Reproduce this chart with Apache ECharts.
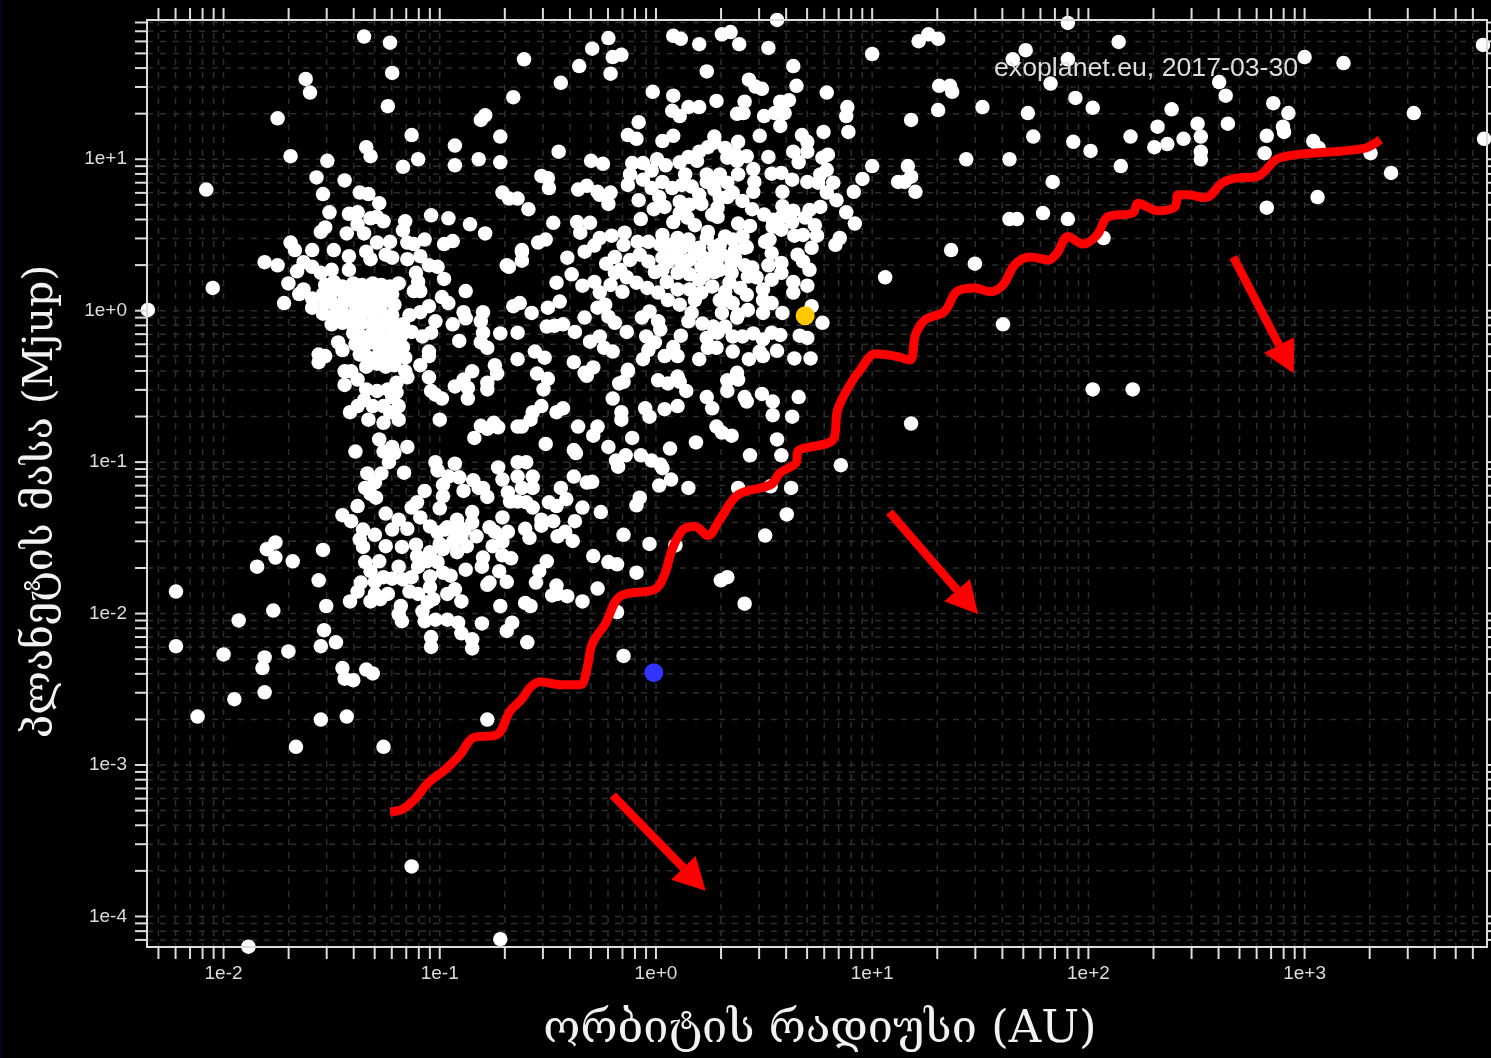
<!DOCTYPE html>
<html><head><meta charset="utf-8"><style>
html,body{margin:0;padding:0;width:100%;height:100%;overflow:hidden;background:linear-gradient(90deg,#03031c 3px,#000 3px)}
#c{position:absolute;left:0;top:0;width:1491px;height:1058px}
</style></head><body><div id="c"></div>
<script src="https://cdn.jsdelivr.net/npm/echarts@6/dist/echarts.min.js"></script>
<script>
// All planet values are [log10(orbital radius / AU), log10(mass / Mjup)].
const sparseUpperLeft=[[-1.35,1.81],[-1.23,1.77],[-1.22,1.57],[-1.62,1.53],[-1.60,1.44],[-1.24,1.35],[-0.61,1.66],[-0.66,1.41],[-1.75,1.27],[-0.79,1.29],[-0.81,1.26],[-1.13,1.16],[-0.72,1.15],[-0.93,1.09],[-1.34,1.08],[-1.32,1.02],[-1.69,1.02],[-1.52,0.99],[-1.10,1.00],[-1.17,0.95],[-0.93,0.96],[-0.82,1.00],[-0.72,0.98],[-1.57,0.88],[-1.44,0.86],[-2.08,0.80],[-1.54,0.77],[-1.37,0.78],[-1.33,0.77],[-1.28,0.71],[-0.71,0.78],[-0.68,0.74],[-0.64,0.74],[-0.59,0.67],[-2.05,0.15],[-2.35,0.005]];
const hotJupiterEdge=[[-1.51,0.65],[-1.42,0.64],[-1.38,0.65],[-1.32,0.61],[-1.29,0.62],[-1.26,0.59],[-1.16,0.59],[-1.17,0.53],[-1.04,0.63],[-0.96,0.61],[-0.86,0.57],[-0.79,0.51],[-1.53,0.55],[-1.55,0.52],[-1.38,0.57],[-1.43,0.51],[-1.35,0.51],[-1.23,0.455],[-1.07,0.47],[-1.15,0.45],[-1.12,0.44],[-0.98,0.44],[-0.94,0.46],[-0.62,0.40],[-0.62,0.33],[-0.68,0.29],[-1.69,0.45],[-1.67,0.40],[-1.81,0.32],[-1.75,0.30],[-1.70,0.18],[-0.88,0.13],[-1.59,0.40],[-1.49,0.40],[-1.42,0.36],[-1.34,0.39],[-1.29,0.45],[-1.32,0.34],[-1.25,0.37],[-1.22,0.35],[-1.15,0.34],[-1.09,0.36],[-1.05,0.30],[-1.01,0.29],[-0.98,0.21],[-1.63,0.32],[-1.66,0.26],[-1.59,0.29],[-1.55,0.25],[-1.50,0.27],[-1.42,0.27],[-1.11,0.25],[-1.10,0.19],[-1.63,0.14],[-1.65,0.11],[-1.59,0.08],[-1.59,0.02],[-1.72,0.05],[-1.19,0.18],[-1.12,0.13],[-1.09,0.13],[-0.99,0.09],[-0.96,0.05],[-0.66,0.03],[-1.05,0.03],[-1.09,-0.01],[-1.14,-0.03],[-1.02,-0.07],[-1.04,-0.145],[-1.08,-0.17],[-1.13,-0.14],[-1.17,-0.09],[-0.94,-0.09],[-0.88,-0.05],[-0.89,-0.01],[-0.80,-0.01],[-0.81,-0.07],[-0.80,-0.145],[-0.81,-0.21],[-0.78,-0.245],[-0.72,-0.15],[-0.91,-0.20],[-0.64,-0.145],[-1.47,-0.21],[-1.45,-0.26],[-1.56,-0.29],[-1.53,-0.30],[-1.56,-0.34],[-1.05,-0.27],[-1.05,-0.30],[-1.09,-0.36],[-0.64,-0.32],[-1.44,-0.40],[-1.41,-0.40],[-1.44,-0.49],[-1.38,-0.455],[-1.16,-0.40],[-1.15,-0.44],[-1.20,-0.475],[-1.05,-0.44],[-0.745,-0.36],[-0.735,-0.415],[-0.78,-0.475],[-0.78,-0.52],[-0.85,-0.40],[-0.89,-0.455],[-0.87,-0.51],[-0.93,-0.50],[-1.04,-0.53],[-1.02,-0.555],[-0.99,-0.58],[-0.87,-0.58],[-1.34,-0.52],[-1.29,-0.53],[-1.20,-0.54],[-1.24,-0.52],[-1.35,-0.59],[-1.31,-0.63],[-1.26,-0.63],[-1.22,-0.57],[-1.38,-0.63],[-1.415,-0.67],[-1.19,-0.63],[-1.23,-0.67],[-1.33,-0.72],[-1.26,-0.74],[-1.19,-0.72],[-1.28,-0.85],[-1.22,-0.90],[-1.15,-0.90]];
const hotJupiterCore=[[-1.53,.17],[-1.49,.19],[-1.45,.16],[-1.40,.18],[-1.36,.17],[-1.31,.18],[-1.27,.17],[-1.23,.16],[-1.54,.11],[-1.50,.12],[-1.44,.10],[-1.40,.12],[-1.35,.10],[-1.31,.12],[-1.26,.10],[-1.22,.11],[-1.53,.05],[-1.48,.04],[-1.44,.06],[-1.39,.04],[-1.35,.05],[-1.30,.04],[-1.26,.06],[-1.21,.04],[-1.54,-.02],[-1.49,-.03],[-1.45,-.01],[-1.40,-.03],[-1.36,-.01],[-1.31,-.02],[-1.27,-.01],[-1.22,-.03],[-1.50,-.09],[-1.45,-.08],[-1.40,-.10],[-1.36,-.08],[-1.31,-.09],[-1.26,-.08],[-1.21,-.09],[-1.40,-.15],[-1.36,-.17],[-1.31,-.14],[-1.27,-.16],[-1.22,-.15],[-1.18,-.17],[-1.39,-.22],[-1.35,-.24],[-1.31,-.21],[-1.26,-.23],[-1.22,-.22],[-1.17,-.24],[-1.37,-.29],[-1.33,-.31],[-1.28,-.28],[-1.24,-.30],[-1.20,-.29],[-1.16,-.31],[-1.34,-.37],[-1.29,-.35],[-1.25,-.37],[-1.21,-.36]];
const middleBand=[[-0.38,-0.34],[-0.29,-0.375],[-0.33,-0.41],[-0.32,-0.43],[-0.24,-0.245],[-0.20,-0.27],[-0.55,-0.415],[-0.50,-0.45],[-0.52,-0.52],[-0.13,-0.40],[-0.15,-0.47],[-0.17,-0.48],[0.01,-0.46],[0.055,-0.48],[0.10,-0.435],[0.11,-0.47],[0.14,-0.53],[0.375,-0.41],[0.33,-0.46],[0.38,-0.455],[0.33,-0.53],[0.235,-0.57],[0.26,-0.645],[0.41,-0.57],[0.42,-0.60],[0.49,-0.55],[0.54,-0.60],[0.54,-0.69],[0.66,-0.57],[0.63,-0.70],[-0.20,-0.58],[-0.53,-0.63],[-0.57,-0.67],[-0.58,-0.72],[-0.62,-0.765],[-0.64,-0.765],[-0.46,-0.67],[-0.43,-0.645],[-1.00,-0.72],[-0.81,-0.76],[-0.78,-0.78],[-0.75,-0.74],[-0.73,-0.77],[-0.84,-0.84],[-0.51,-0.88],[-0.36,-0.765],[-0.27,-0.765],[-0.29,-0.825],[-0.16,-0.67],[-0.16,-0.72],[-0.05,-0.645],[-0.03,-0.70],[0.04,-0.65],[0.10,-0.63],[0.28,-0.765],[0.305,-0.805],[0.35,-0.825],[-0.11,-0.84],[-0.22,-0.90],[-0.38,-0.92],[-0.37,-0.94],[0.065,-0.91],[0.185,-0.87],[0.56,-0.85],[0.435,-0.955],[0.58,-0.955],[-0.07,-0.955],[-0.14,-0.955],[-0.185,-0.99],[-0.175,-1.03],[-0.02,-0.99],[0.02,-1.015],[0.03,-1.04],[-0.38,-1.095],[-0.32,-1.135],[-0.295,-1.13],[0.07,-1.115],[0.015,-1.155],[0.15,-1.17],[0.38,-1.17],[0.53,-1.16],[0.625,-1.17],[-0.44,-1.17],[-0.415,-1.245],[-0.495,-1.265],[-0.46,-1.29],[-0.34,-1.30],[-0.255,-1.33],[-0.075,-1.235],[-0.09,-1.285],[0.605,-1.345]];
const lowMassCluster=[[-0.73,-1.035],[-0.71,-1.115],[-0.64,-1.00],[-0.60,-1.00],[-0.57,-1.095],[-0.64,-1.095],[-0.57,-1.17],[-0.62,-1.17],[-0.685,-1.20],[-0.675,-1.26],[-0.64,-1.26],[-0.60,-1.265],[-0.57,-1.30],[-1.02,-1.00],[-1.01,-1.055],[-0.93,-1.01],[-0.96,-1.095],[-0.91,-1.10],[-0.985,-1.15],[-0.985,-1.225],[-0.845,-1.12],[-0.80,-1.17],[-0.78,-1.23],[-0.89,-1.19],[-0.82,-1.17],[-1.39,-0.93],[-1.26,-0.93],[-1.21,-0.94],[-1.235,-1.00],[-1.335,-1.075],[-1.27,-1.075],[-1.165,-1.07],[-1.30,-1.135],[-1.345,-1.17],[-1.32,-1.21],[-1.295,-1.235],[-1.07,-1.19],[-0.375,-1.39],[-0.53,-1.38],[-0.475,-1.39],[-0.53,-1.42],[-1.38,-1.29],[-1.45,-1.35],[-1.41,-1.39],[-1.25,-1.34],[-1.105,-1.265],[-1.13,-1.30],[-1.09,-1.365],[-1.00,-1.305],[-1.19,-1.38],[-1.15,-1.44],[-1.22,-1.445],[-1.25,-1.555],[-1.355,-1.445],[-1.37,-1.51],[-1.355,-1.56],[-1.30,-1.48],[-1.045,-1.425],[-1.01,-1.465],[-0.965,-1.43],[-0.92,-1.38],[-0.85,-1.33],[-0.85,-1.40],[-0.90,-1.49],[-0.94,-1.53],[-0.985,-1.575],[-0.92,-1.595],[-0.875,-1.555],[-0.83,-1.49],[-0.77,-1.43],[-0.71,-1.365],[-0.685,-1.46],[-0.745,-1.46],[-0.71,-1.525],[-0.755,-1.555],[-0.605,-1.44],[-0.585,-1.50],[-0.455,-1.49],[-0.42,-1.46],[-0.385,-1.52],[-0.71,-1.615],[-0.67,-1.635],[-0.80,-1.63],[-0.805,-1.69],[-0.88,-1.71],[-0.505,-1.655],[-0.54,-1.72],[-0.555,-1.795],[-0.29,-1.62],[-0.725,-1.72],[-0.78,-1.81],[-0.69,-1.79],[-0.77,-1.795],[-0.46,-1.815],[-0.48,-1.88],[-0.41,-1.885],[-0.455,-1.87],[-0.34,-1.92],[-0.27,-1.835],[-0.72,-1.95],[-0.605,-1.93],[-0.58,-1.95],[-0.90,-1.92],[-1.18,-1.95],[-1.19,-2.005],[-1.175,-2.05],[-1.175,-1.56],[-1.11,-1.545],[-1.105,-1.62],[-1.345,-1.66],[-1.28,-1.655],[-1.32,-1.72],[-1.30,-1.79],[-1.26,-1.76],[-1.22,-1.77],[-1.19,-1.69],[-1.17,-1.775],[-1.045,-1.595],[-1.06,-1.655],[-1.10,-1.69],[-1.13,-1.76],[-1.01,-1.66],[-0.985,-1.73],[-0.95,-1.75],[-1.045,-1.755],[-1.365,-1.795],[-1.38,-1.855],[-1.415,-1.92],[-1.24,-1.87],[-1.275,-1.905],[-1.30,-1.87],[-1.32,-1.92],[-1.14,-1.855],[-1.10,-1.87],[-1.045,-1.825],[-1.03,-1.905],[-0.965,-1.87],[-0.93,-1.84],[-1.055,-1.925],[-1.08,-1.985],[-1.07,-2.05],[-1.02,-2.04],[-0.965,-2.04],[-0.915,-2.06],[-0.90,-2.13],[-0.85,-2.17],[-0.85,-2.23],[-1.04,-2.155],[-1.04,-2.22],[-0.805,-2.065],[-0.665,-2.06],[-0.69,-2.115],[-0.595,-2.19],[-0.975,-1.445],[-0.93,-1.51],[-0.885,-1.445],[-1.0,-1.54],[-0.92,-1.44]];
const sparseLowerLeft=[[-1.76,-1.53],[-1.80,-1.575],[-1.76,-1.63],[-1.54,-1.58],[-1.68,-1.655],[-1.845,-1.69],[-1.56,-1.78],[-2.22,-1.855],[-1.525,-1.95],[-1.77,-1.98],[-1.93,-2.045],[-1.535,-2.11],[-2.22,-2.215],[-1.48,-2.19],[-1.55,-2.215],[-2.00,-2.27],[-1.70,-2.25],[-1.81,-2.29],[-1.82,-2.36],[-1.45,-2.36],[-1.44,-2.43],[-1.40,-2.44],[-1.34,-2.37],[-1.31,-2.395],[-1.81,-2.52],[-1.95,-2.565],[-2.12,-2.68],[-1.43,-2.68],[-1.55,-2.70],[-1.665,-2.88],[-1.26,-2.88],[-1.13,-3.67],[-0.72,-4.15],[-1.885,-4.20],[-0.78,-2.70],[-0.15,-2.28],[-0.18,-1.99]];
const giantsTop=[[-0.22,1.80],[-0.295,1.73],[-0.355,1.615],[-0.16,1.69],[-0.20,1.675],[-0.21,1.565],[-0.44,1.505],[0.08,1.815],[0.115,1.795],[0.305,1.825],[0.345,1.84],[0.20,1.76],[0.385,1.76],[0.52,1.735],[0.56,1.92],[0.235,1.58],[0.635,1.615],[-0.015,1.445],[0.08,1.42],[0.28,1.385],[0.43,1.525],[0.46,1.48],[0.49,1.465],[0.65,1.485],[0.79,1.44],[0.075,1.32],[0.11,1.285],[0.15,1.345],[0.20,1.345],[0.41,1.38],[0.375,1.30],[0.405,1.305],[0.50,1.285],[0.55,1.305],[0.595,1.305],[0.575,1.38],[0.615,1.39],[0.575,1.22],[0.885,1.345],[0.88,1.285],[0.89,1.18],[0.775,1.18],[-0.08,1.245],[-0.13,1.16],[-0.09,1.135],[-0.45,1.05],[-0.30,0.99],[-0.245,0.97],[0.03,1.12],[0.08,1.155],[0.27,1.15],[0.38,1.115],[0.48,1.155],[0.675,1.16],[0.70,1.115],[0.70,1.05],[0.635,1.05],[0.66,0.98]];
const giantsCluster=[[-0.11,0.975],[-0.06,0.975],[-0.02,0.925],[0.005,1.00],[0.045,0.96],[0.11,0.98],[0.15,1.015],[0.19,0.99],[0.20,1.05],[0.24,1.08],[0.27,1.11],[0.32,1.075],[0.33,1.01],[0.365,1.04],[0.375,0.99],[0.42,1.02],[0.52,1.015],[0.77,1.01],[0.795,1.03],[0.79,0.93],[0.76,0.90],[0.45,0.935],[0.455,0.85],[0.45,0.785],[0.38,0.90],[0.535,0.905],[0.58,0.91],[0.63,0.865],[0.70,0.85],[0.75,0.845],[0.82,0.845],[-0.13,0.83],[-0.12,0.90],[-0.06,0.865],[-0.02,0.81],[0.015,0.75],[0.03,0.85],[0.075,0.81],[0.12,0.83],[0.165,0.82],[0.135,0.90],[0.235,0.90],[0.28,0.865],[0.33,0.845],[0.235,0.85],[0.355,0.78],[0.40,0.725],[0.585,0.785],[0.915,0.785],[0.79,0.78],[0.835,0.73],[-0.21,0.78],[-0.22,0.705],[-0.08,0.73],[-0.26,0.765],[0.21,0.705],[0.11,0.72],[0.04,0.685],[-0.01,0.67],[0.295,0.745],[0.33,0.75],[0.285,0.68],[0.26,0.635],[0.285,0.62],[0.445,0.67],[0.585,0.69],[0.635,0.66],[0.76,0.685],[0.71,0.665],[0.69,0.615],[0.88,0.65],[0.50,0.635],[0.54,0.60],[0.63,0.585],[0.58,0.62],[0.92,0.575],[-0.07,0.605],[0.11,0.645],[0.08,0.585],[0.145,0.615],[0.18,0.565],[0.38,0.575],[0.435,0.56],[0.58,0.535],[0.54,0.555],[0.525,0.47],[0.505,0.455],[0.735,0.565],[0.745,0.495],[0.64,0.495],[0.68,0.50],[0.85,0.48],[0.83,0.435],[0.03,0.50],[0.10,0.48],[0.15,0.47],[0.12,0.415],[0.055,0.435],[0.235,0.48],[0.27,0.42],[0.20,0.415],[0.24,0.52],[0.32,0.49],[0.355,0.47],[0.40,0.49],[0.42,0.42],[0.365,0.40],[0.305,0.37],[0.26,0.35],[-0.26,0.48],[-0.205,0.495],[-0.145,0.515],[-0.085,0.455],[-0.035,0.455],[-0.15,0.435],[-0.19,0.355],[0.72,0.415],[0.655,0.37],[0.535,0.38],[0.52,0.30],[0.58,0.315],[0.68,0.325],[0.71,0.27],[-0.075,0.37],[-0.12,0.335],[-0.165,0.27],[-0.035,0.325],[0.03,0.35],[0.10,0.35],[0.155,0.335],[-0.23,0.31],[0.215,0.355],[0.28,0.325],[0.35,0.315],[0.21,0.29],[0.27,0.255],[0.35,0.25],[0.445,0.285],[-0.19,0.25],[-0.135,0.22],[-0.09,0.185],[-0.04,0.15],[0.03,0.27],[0.10,0.25],[0.155,0.24],[0.05,0.19],[0.01,0.12],[0.10,0.14],[0.055,0.07],[0.11,0.04],[0.20,0.205],[0.26,0.16],[0.21,0.12],[0.18,0.07],[0.34,0.185],[0.39,0.15],[0.33,0.07],[0.355,0.05],[0.295,0.07],[0.425,0.225],[0.465,0.22],[0.42,0.105],[-0.21,0.17],[-0.155,0.125],[-0.26,0.12],[0.535,0.205],[0.58,0.25],[0.635,0.19],[0.70,0.165],[0.635,0.12],[0.495,0.14],[0.535,0.05],[0.495,0.07],[0.495,-0.015],[0.425,0.005],[0.38,-0.025],[0.585,-0.015],[0.72,0.03],[0.77,-0.08],[-0.235,0.04],[-0.22,-0.04],[-0.19,-0.08],[0.165,-0.015],[0.15,-0.07],[0.215,-0.085],[-0.03,-0.005],[-0.065,-0.045],[0.01,-0.07],[0.02,-0.125],[0.305,-0.015],[0.265,-0.105],[0.32,-0.105],[0.375,-0.045],[0.285,-0.145],[0.355,-0.17],[0.40,-0.17],[0.115,-0.165],[-0.135,-0.14],[0.45,-0.15],[0.535,-0.145],[0.495,-0.19],[0.575,-0.16],[0.665,-0.165],[0.70,-0.18],[-0.26,-0.17],[-0.045,-0.17],[-0.005,-0.21],[-0.035,-0.26],[-0.06,-0.32],[0.04,-0.30],[0.08,-0.24],[0.10,-0.30],[0.235,-0.18],[0.24,-0.245],[0.28,-0.245],[0.355,-0.27],[0.56,-0.265],[0.48,-0.27],[0.495,-0.30],[0.64,-0.315],[0.715,-0.315],[0.20,-0.32],[0.43,-0.32],[-0.13,-0.39],[0.075,0.37],[0.12,0.30],[0.18,0.40],[0.24,0.32],[0.295,0.435],[0.295,0.27],[0.365,0.35],[0.41,0.30],[-0.005,0.255],[0.055,0.32],[0.155,0.14],[0.225,0.24],[0.32,0.125],[0.41,0.415],[0.02,0.435],[0.09,0.415],[0.27,0.80],[0.295,0.90],[0.20,0.765],[0.155,0.70]];
const betweenClusters=[[-0.53,0.89],[-0.50,0.875],[-0.495,0.81],[-0.32,0.825],[-0.36,0.80],[-0.27,0.785],[-0.475,0.58],[-0.365,0.585],[-0.35,0.515],[-0.305,0.58],[-0.51,0.47],[-0.545,0.45],[-0.62,0.39],[-0.69,0.30],[-0.41,0.35],[-0.33,0.39],[-0.285,0.43],[-0.39,0.24],[-0.46,0.185],[-0.34,0.165],[-0.285,0.19],[-0.445,0.06],[-0.50,0.02],[-0.575,-0.015],[-0.63,0.05],[-0.47,-0.10],[-0.505,-0.105],[-0.43,-0.09],[-0.33,-0.045],[-0.375,-0.14],[-0.27,0.02],[-0.305,-0.205],[-0.56,-0.27],[-0.515,-0.31]];
const wideOrbits=[[1.00,1.695],[1.215,1.78],[1.26,1.825],[1.305,1.795],[1.905,1.90],[2.14,1.775],[1.71,1.72],[1.65,1.66],[1.905,1.66],[1.825,1.50],[1.31,1.485],[1.36,1.485],[1.37,1.445],[1.94,1.405],[2.02,1.34],[1.51,1.345],[1.72,1.305],[1.305,1.325],[1.18,1.26],[1.745,1.15],[1.93,1.115],[2.01,1.055],[1.435,1.00],[1.635,1.00],[2.195,1.15],[2.15,0.955],[2.32,1.215],[2.305,1.08],[2.365,1.10],[2.44,1.135],[2.505,1.235],[2.52,1.15],[2.52,1.05],[2.52,1.00],[2.385,1.33],[2.605,1.51],[2.635,1.42],[2.645,1.235],[1.00,0.955],[1.165,0.955],[1.18,0.885],[1.20,0.785],[1.12,0.85],[1.15,0.85],[0.955,0.87],[1.835,0.85],[1.79,0.645],[1.635,0.605],[1.67,0.605],[1.905,0.605],[2.07,0.48],[1.365,0.40],[1.475,0.31],[1.06,0.22],[3.00,1.675],[3.18,1.635],[2.855,1.37],[2.925,1.305],[3.505,1.305],[2.90,1.215],[2.905,1.18],[2.825,1.155],[3.04,1.12],[3.065,1.075],[2.815,1.04],[3.305,1.04],[3.825,1.755],[3.83,1.135],[3.40,0.91],[3.06,0.75],[2.825,0.68],[1.605,-0.09],[2.02,-0.52],[2.205,-0.52],[1.18,-0.745],[0.855,-1.02],[0.505,-1.485],[0.30,-1.78],[0.33,-1.76],[0.41,-1.935],[0.09,-1.55],[-0.03,-1.54],[-0.15,-1.48],[-0.22,-1.66],[-0.18,-1.675],[-0.09,-1.73]];
const jupiterPoint=[0.69,-0.033];
const earthPoint=[-0.01,-2.39];
const detectionLimit=[[-1.23,-3.31],[-1.17,-3.29],[-1.115,-3.225],[-1.055,-3.12],[-0.975,-3.03],[-0.905,-2.93],[-0.845,-2.82],[-0.735,-2.80],[-0.675,-2.645],[-0.62,-2.565],[-0.58,-2.485],[-0.535,-2.45],[-0.445,-2.47],[-0.35,-2.47],[-0.32,-2.37],[-0.295,-2.20],[-0.235,-2.07],[-0.165,-1.885],[-0.005,-1.84],[0.04,-1.74],[0.075,-1.575],[0.125,-1.445],[0.18,-1.425],[0.24,-1.485],[0.295,-1.38],[0.38,-1.215],[0.53,-1.15],[0.575,-1.07],[0.65,-1.00],[0.655,-0.93],[0.82,-0.85],[0.84,-0.655],[0.897,-0.49],[0.945,-0.39],[1.015,-0.285],[1.105,-0.30],[1.175,-0.325],[1.20,-0.16],[1.245,-0.06],[1.335,-0.005],[1.39,0.125],[1.475,0.15],[1.545,0.125],[1.605,0.17],[1.66,0.305],[1.73,0.355],[1.815,0.335],[1.855,0.38],[1.905,0.49],[1.975,0.44],[2.04,0.50],[2.09,0.62],[2.205,0.645],[2.23,0.71],[2.32,0.66],[2.40,0.685],[2.415,0.765],[2.46,0.765],[2.54,0.745],[2.62,0.845],[2.685,0.875],[2.78,0.885],[2.885,1.01],[3.27,1.07],[3.35,1.13]];
const arrowSegments=[[-0.20,-3.20,0.23,-3.83],[1.08,-1.33,1.49,-2.005],[2.67,0.355,2.95,-0.415]];
const tickDecadesX=[-3,-2,-1,0,1,2,3], tickDecadesY=[-5,-4,-3,-2,-1,0,1], tickMultipliers=[1,2,3,4,5,6,7,8,9];
const xTickLabels=['1e-2','1e-1','1e+0','1e+1','1e+2','1e+3'];
const yTickLabels=['1e-4','1e-3','1e-2','1e-1','1e+0','1e+1'];
const xAxisTitle='ორბიტის რადიუსი (AU)', yAxisTitle='პლანეტის მასა (Mjup)', sourceNote='exoplanet.eu, 2017-03-30';
const xExtentExp=[-2.354,3.8436], yExtentExp=[-4.2017,1.9195];

const toValue=p=>[Math.pow(10,p[0]),Math.pow(10,p[1])];
const planets=[].concat(sparseUpperLeft,hotJupiterEdge,hotJupiterCore,middleBand,lowMassCluster,sparseLowerLeft,giantsTop,giantsCluster,betweenClusters,wideOrbits).map(toValue);
const decadeValues=(ds)=>{const r=[];ds.forEach(d=>tickMultipliers.forEach(m=>r.push(m*Math.pow(10,d))));return r;};
const xMin=Math.pow(10,xExtentExp[0]),xMax=Math.pow(10,xExtentExp[1]),yMin=Math.pow(10,yExtentExp[0]),yMax=Math.pow(10,yExtentExp[1]);
const xLines=decadeValues(tickDecadesX).filter(v=>v>xMin&&v<xMax).map(v=>[v,1]);
const yLines=decadeValues(tickDecadesY).filter(v=>v>yMin&&v<yMax).map(v=>[1,v]);
const dim='#2e2e2e', axisCol='#dddddd', TL=12;

function lineShape(x1,y1,x2,y2,style){return {type:'line',shape:{x1,y1,x2,y2},style};}
const gridItem=vertical=>(params,api)=>{
  const r=params.coordSys, c=api.coord([api.value(0),api.value(1)]);
  const st={stroke:dim,lineWidth:1.5,lineDash:[6,7]};
  return vertical?lineShape(c[0],r.y,c[0],r.y+r.height,st):lineShape(r.x,c[1],r.x+r.width,c[1],st);
};
const tickItem=vertical=>(params,api)=>{
  const r=params.coordSys, c=api.coord([api.value(0),api.value(1)]);
  const st={stroke:axisCol,lineWidth:2};
  return {type:'group',children:vertical
    ?[lineShape(c[0],r.y-TL,c[0],r.y,st),lineShape(c[0],r.y+r.height,c[0],r.y+r.height+TL,st)]
    :[lineShape(r.x-TL,c[1],r.x,c[1],st),lineShape(r.x+r.width,c[1],r.x+r.width+TL,c[1],st)]};
};
function arrowItem(params,api){
  const a=api.coord([Math.pow(10,api.value(0)),Math.pow(10,api.value(1))]);
  const b=api.coord([Math.pow(10,api.value(2)),Math.pow(10,api.value(3))]);
  const dx=b[0]-a[0],dy=b[1]-a[1],L=Math.hypot(dx,dy),ux=dx/L,uy=dy/L,hl=32,hw=17;
  const bx=b[0]-ux*hl,by=b[1]-uy*hl;
  return {type:'group',children:[
    lineShape(a[0],a[1],bx,by,{stroke:'#ff0000',lineWidth:8.5}),
    {type:'polygon',shape:{points:[[b[0],b[1]],[bx-uy*hw,by+ux*hw],[bx+uy*hw,by-ux*hw]]},style:{fill:'#ff0000'}}
  ]};
}
const labelFrom=(labels,base)=>v=>{const e=Math.log10(v),n=Math.round(e);return Math.abs(e-n)<1e-6&&labels[n-base]?labels[n-base]:'';};

const chart=echarts.init(document.getElementById('c'),null,{renderer:'canvas',width:1491,height:1058});
chart.setOption({
  animation:false,backgroundColor:'transparent',
  grid:{left:147,top:20,width:1340,height:928,show:true,borderColor:axisCol,borderWidth:2,backgroundColor:'transparent',z:8},
  xAxis:{type:'log',logBase:10,min:xMin,max:xMax,axisLine:{show:false},axisTick:{show:false},splitLine:{show:false},minorTick:{show:false},
    axisLabel:{color:'#dcdcdc',fontFamily:'Liberation Sans',fontSize:19,margin:17,showMinLabel:false,showMaxLabel:false,hideOverlap:false,formatter:labelFrom(xTickLabels,-2)},
    name:xAxisTitle,nameLocation:'middle',nameGap:61,nameTextStyle:{color:'#f2f2f2',fontFamily:'DejaVu Serif',fontSize:45,padding:[0,0,0,6]}},
  yAxis:{type:'log',logBase:10,min:yMin,max:yMax,axisLine:{show:false},axisTick:{show:false},splitLine:{show:false},minorTick:{show:false},
    axisLabel:{color:'#dcdcdc',fontFamily:'Liberation Sans',fontSize:19,margin:20,showMinLabel:false,showMaxLabel:false,hideOverlap:false,formatter:labelFrom(yTickLabels,-4)},
    name:yAxisTitle,nameLocation:'middle',nameGap:85,nameTextStyle:{color:'#f2f2f2',fontFamily:'DejaVu Serif',fontSize:41,padding:[0,36,0,0]}},
  graphic:[{type:'text',left:994,top:55,z:20,silent:true,style:{text:sourceNote,fill:'#dedede',font:'26.7px "Liberation Sans"'}}],
  series:[
    {type:'custom',name:'gridX',coordinateSystem:'cartesian2d',data:xLines,renderItem:gridItem(true),z:1,silent:true,clip:false},
    {type:'custom',name:'gridY',coordinateSystem:'cartesian2d',data:yLines,renderItem:gridItem(false),z:1,silent:true,clip:false},
    {type:'scatter',name:'planets',data:planets,symbolSize:14.5,itemStyle:{color:'#ffffff',opacity:1},z:3,clip:true,large:false},
    {type:'scatter',name:'Jupiter',data:[toValue(jupiterPoint)],symbolSize:19,itemStyle:{color:'#ffc800',opacity:1},z:4,clip:true},
    {type:'scatter',name:'Earth',data:[toValue(earthPoint)],symbolSize:19,itemStyle:{color:'#3333ff',opacity:1},z:4,clip:true},
    {type:'line',name:'limit',data:detectionLimit.map(toValue),smooth:0.35,showSymbol:false,symbol:'none',lineStyle:{color:'#ff0000',width:9,join:'round'},z:5,clip:true},
    {type:'custom',name:'arrows',coordinateSystem:'cartesian2d',data:arrowSegments,encode:{x:[],y:[]},renderItem:arrowItem,z:6,silent:true},
    {type:'custom',name:'ticksX',coordinateSystem:'cartesian2d',data:xLines,renderItem:tickItem(true),z:9,silent:true,clip:false},
    {type:'custom',name:'ticksY',coordinateSystem:'cartesian2d',data:yLines,renderItem:tickItem(false),z:9,silent:true,clip:false}
  ]
});
</script></body></html>
